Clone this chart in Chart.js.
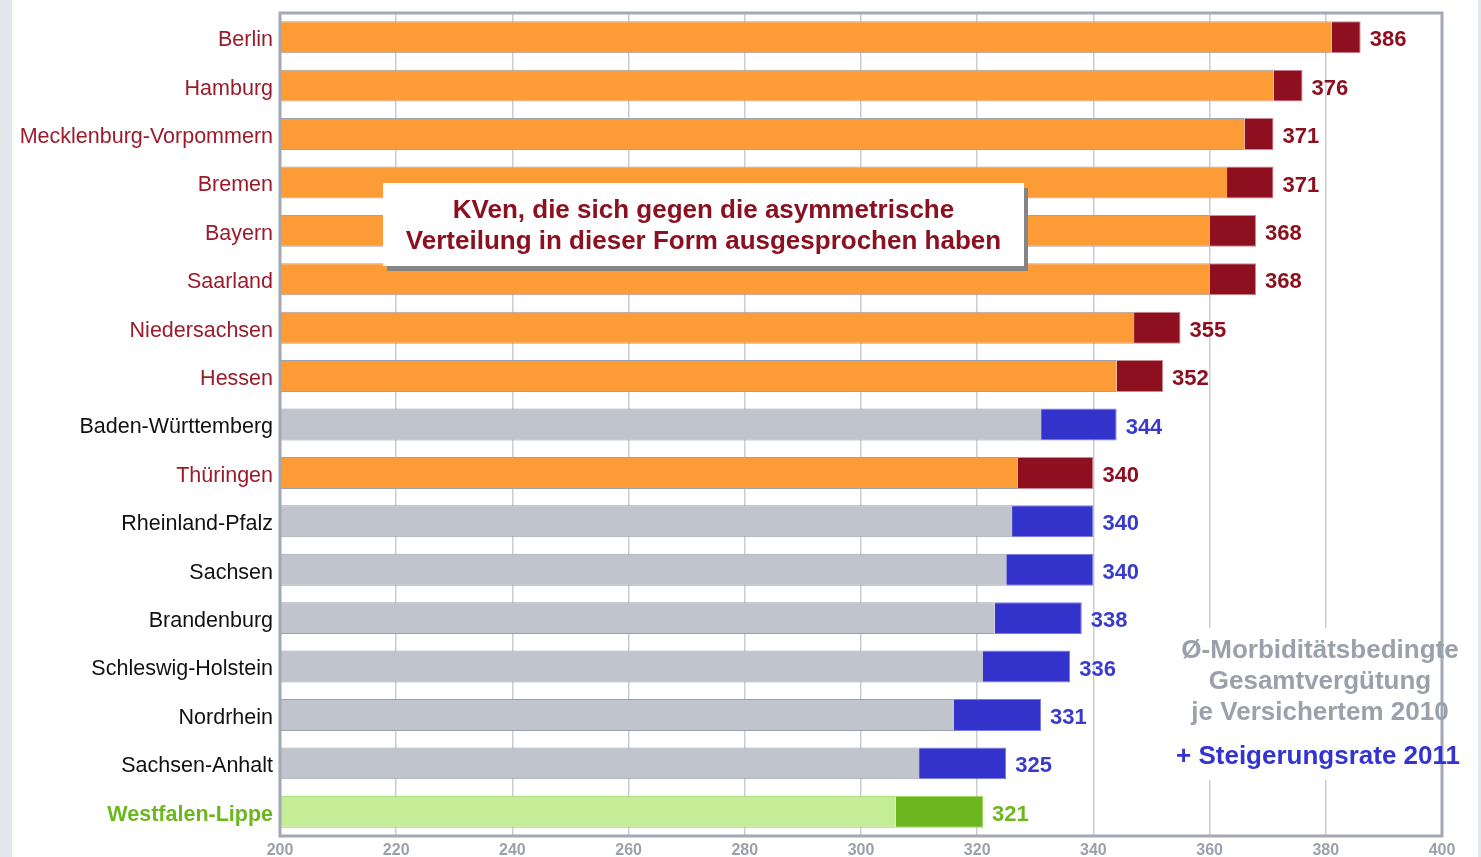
<!DOCTYPE html>
<html><head><meta charset="utf-8">
<script src="https://cdn.jsdelivr.net/npm/chart.js@4.4.1/dist/chart.umd.min.js"></script>
<style>
html,body{margin:0;padding:0;background:#e6e7ec;width:1481px;height:857px;overflow:hidden;}
#wrap{position:absolute;left:12px;top:0;width:1466px;height:857px;background:#fff;}
canvas{display:block;}
</style></head>
<body><div id="wrap"><canvas id="c" width="1466" height="857" style="width:1466px;height:857px"></canvas></div>
<script>
const categories = ["Berlin","Hamburg","Mecklenburg-Vorpommern","Bremen","Bayern","Saarland","Niedersachsen","Hessen","Baden-Württemberg","Thüringen","Rheinland-Pfalz","Sachsen","Brandenburg","Schleswig-Holstein","Nordrhein","Sachsen-Anhalt","Westfalen-Lippe"];
const base2010 = [381,371,366,363,360,360,347,344,331,327,326,325,323,321,316,310,306];
const total2011 = [386,376,371,371,368,368,355,352,344,340,340,340,338,336,331,325,321];
const groups = ["kv","kv","kv","kv","kv","kv","kv","kv","other","kv","other","other","other","other","other","other","wl"];
const xTicks = [200,220,240,260,280,300,320,340,360,380,400];
const boxText = ["KVen, die sich gegen die asymmetrische","Verteilung in dieser Form ausgesprochen haben"];
const legendGray = ["Ø-Morbiditätsbedingte","Gesamtvergütung","je Versichertem 2010"];
const legendBlue = "+ Steigerungsrate 2011";

const palette = {
  kv:{base:"#fd9b36",inc:"#8e0f20",label:"#9b1b2b",value:"#8e0f20",border:"#9aa3b3",incBorder:"#c98a92"},
  other:{base:"#c0c5cd",inc:"#3333cc",label:"#111111",value:"#3a3acc",border:"#9aa0a8",incBorder:"#7a7ae0"},
  wl:{base:"#c5ec97",inc:"#6cb71f",label:"#6cb71f",value:"#6cb71f",border:"#8fd24a",incBorder:"#9bd85a"}
};
const increase = total2011.map((t,i)=>t-base2010[i]);
const FONT = "'Liberation Sans', Arial, sans-serif";

const overlay = {
  id:"overlay",
  beforeDatasetsDraw(chart){
    const ctx=chart.ctx;
    ctx.save();
    ctx.fillStyle="#fff";
    ctx.fillRect(1158,628,300,152);
    ctx.restore();
  },
  afterDatasetsDraw(chart){
    const ctx=chart.ctx, a=chart.chartArea, xs=chart.scales.x, ys=chart.scales.y;
    ctx.save();
    ctx.font="bold 22px "+FONT;
    ctx.textBaseline="middle";
    ctx.textAlign="left";
    categories.forEach((c,i)=>{
      ctx.fillStyle=palette[groups[i]].value;
      ctx.fillText(String(total2011[i]), xs.getPixelForValue(total2011[i])+9, ys.getPixelForValue(i)+3);
    });
    ctx.strokeStyle="#a2a9b4";
    ctx.lineWidth=3;
    ctx.strokeRect(a.left,a.top,a.right-a.left,a.bottom-a.top);
    const bx=371, by=183, bw=641, bh=83;
    ctx.fillStyle="#858585";
    ctx.fillRect(bx+4,by+5,bw,bh);
    ctx.fillStyle="#fff";
    ctx.fillRect(bx,by,bw,bh);
    ctx.fillStyle="#8b1020";
    ctx.font="bold 26px "+FONT;
    ctx.textAlign="center";
    ctx.fillText(boxText[0], bx+bw/2, 211);
    ctx.fillText(boxText[1], bx+bw/2, 242);
    ctx.font="bold 26px "+FONT;
    ctx.fillStyle="#9aa1ab";
    legendGray.forEach((t,i)=>ctx.fillText(t,1308,651+i*31));
    ctx.fillStyle="#3333d1";
    ctx.fillText(legendBlue,1306,757);
    ctx.restore();
  }
};

new Chart(document.getElementById("c"),{
  type:"bar",
  data:{
    labels:categories,
    datasets:[
      {label:"2010",data:base2010,
       backgroundColor:groups.map(g=>palette[g].base),
       borderColor:groups.map(g=>palette[g].border),
       borderWidth:{top:1,bottom:1,left:1,right:0},borderSkipped:false,
       categoryPercentage:1,barPercentage:0.66},
      {label:"2011",data:increase,
       backgroundColor:groups.map(g=>palette[g].inc),
       borderColor:groups.map(g=>palette[g].incBorder),
       borderWidth:{top:1,bottom:1,left:0,right:1},borderSkipped:false,
       categoryPercentage:1,barPercentage:0.66}
    ]
  },
  options:{
    indexAxis:"y",
    responsive:false,
    maintainAspectRatio:false,
    animation:false,
    devicePixelRatio:1,
    layout:{padding:{top:13,right:36,left:0,bottom:0}},
    plugins:{legend:{display:false},tooltip:{enabled:false}},
    scales:{
      x:{
        type:"linear",min:200,max:400,stacked:true,
        afterBuildTicks(s){s.ticks=xTicks.map(v=>({value:v}));},
        afterFit(s){s.height=21;},
        grid:{color:"#c9cdd4",lineWidth:1.5,drawTicks:false},
        border:{display:false},
        ticks:{padding:5,maxRotation:0,color:"#9aa1ab",font:{family:FONT,size:16,weight:"bold"}}
      },
      y:{
        stacked:true,
        afterFit(s){s.width=268;s.paddingTop=0;s.paddingBottom=0;},
        grid:{display:false,drawTicks:false},
        border:{display:false},
        ticks:{
          padding:7,autoSkip:false,labelOffset:3,
          color:(c)=>palette[groups[c.index]].label,
          font:(c)=>({family:FONT,size:21.5,weight:groups[c.index]==="wl"?"bold":"normal"})
        }
      }
    }
  },
  plugins:[overlay]
});
</script>
</body></html>
